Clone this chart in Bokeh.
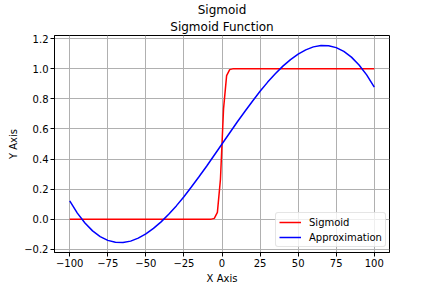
from bokeh.plotting import figure
from bokeh.models import FixedTicker, Legend, LegendItem, Range1d, Title
from bokeh.embed import file_html
from bokeh.resources import INLINE

# data
sig_x = [-100, -9.09, -7.07, -5.05, -3.03, -1.01, 1.01, 3.03, 5.05, 7.07, 9.09, 100]
sig_y = [0.0, 0.0, 0.001, 0.006, 0.046, 0.267, 0.733, 0.954, 0.994, 0.999, 1.0, 1.0]

approx_x = [-100, -95, -90, -85, -80, -75, -70, -65, -60, -55, -50, -45, -40, -35, -30,
            -25, -20, -15, -10, -5, 0, 5, 10, 15, 20, 25, 30, 35, 40, 45, 50, 55, 60,
            65, 70, 75, 80, 85, 90, 95, 100]
approx_y = [0.123, 0.041, -0.025, -0.077, -0.115, -0.140, -0.153, -0.154, -0.145, -0.125,
            -0.097, -0.060, -0.017, 0.034, 0.089, 0.150, 0.216, 0.284, 0.354, 0.427, 0.500,
            0.573, 0.646, 0.716, 0.784, 0.850, 0.911, 0.966, 1.017, 1.060, 1.097, 1.125,
            1.145, 1.154, 1.153, 1.140, 1.115, 1.077, 1.025, 0.959, 0.877]

x_ticks = [-100, -75, -50, -25, 0, 25, 50, 75, 100]
x_tick_labels = ["\u2212100", "\u221275", "\u221250", "\u221225", "0", "25", "50", "75", "100"]
y_ticks = [-0.2, 0.0, 0.2, 0.4, 0.6, 0.8, 1.0, 1.2]
y_tick_labels = ["\u22120.2", "0.0", "0.2", "0.4", "0.6", "0.8", "1.0", "1.2"]

suptitle = "Sigmoid"
title = "Sigmoid Function"
x_label = "X Axis"
y_label = "Y Axis"
series_names = ["Sigmoid", "Approximation"]

FONT = "DejaVu Sans"

p = figure(width=432, height=288, output_backend="svg", toolbar_location=None,
           x_range=Range1d(-110, 110), y_range=Range1d(-0.2205, 1.2205),
           min_border_left=54, min_border_right=43, min_border_top=35, min_border_bottom=36)
p.title.visible = False
p.background_fill_color = "white"
p.border_fill_color = "white"
p.outline_line_color = "black"
p.outline_line_width = 1

r1 = p.line(sig_x, sig_y, line_color="#ff0000", line_width=1.5)
r2 = p.line(approx_x, approx_y, line_color="#0000ff", line_width=1.5)

for ax, ticks, labels in ((p.xaxis[0], x_ticks, x_tick_labels), (p.yaxis[0], y_ticks, y_tick_labels)):
    ax.ticker = FixedTicker(ticks=ticks)
    ax.major_label_overrides = {t: l for t, l in zip(ticks, labels)}
    ax.major_tick_out = 4
    ax.major_tick_in = 0
    ax.minor_tick_out = 0
    ax.minor_tick_in = 0
    ax.major_label_text_font = FONT
    ax.major_label_text_font_size = "10px"
    ax.major_label_text_color = "black"
    ax.axis_label_text_font = FONT
    ax.axis_label_text_font_size = "10px"
    ax.axis_label_text_font_style = "normal"
    ax.axis_label_text_color = "black"
    ax.axis_line_color = "black"
    ax.major_tick_line_color = "black"
    ax.major_label_standoff = 2

p.xaxis.axis_label = x_label
p.yaxis.axis_label = y_label
p.xaxis.axis_label_standoff = 3
p.yaxis.axis_label_standoff = 2

p.xgrid.ticker = FixedTicker(ticks=x_ticks)
p.ygrid.ticker = FixedTicker(ticks=y_ticks)
for g in (p.xgrid[0], p.ygrid[0]):
    g.grid_line_color = "#b0b0b0"
    g.grid_line_width = 1

legend = Legend(items=[LegendItem(label=series_names[0], renderers=[r1]),
                       LegendItem(label=series_names[1], renderers=[r2])],
                location=(221, 5))
legend.label_text_font = FONT
legend.label_text_font_size = "10px"
legend.label_text_color = "black"
legend.glyph_width = 22
legend.glyph_height = 12
legend.label_height = 12
legend.label_standoff = 8
legend.spacing = 3
legend.padding = 3
legend.margin = 0
legend.border_line_color = "#cccccc"
legend.border_line_width = 1
legend.border_radius = 3
legend.background_fill_alpha = 0.8
p.add_layout(legend)

p.add_layout(Title(text=title, align="center", text_font=FONT, text_font_size="12px",
                   text_font_style="normal", text_color="black", standoff=3), "above")
p.add_layout(Title(text=suptitle, align="center", offset=-5.5, text_font=FONT,
                   text_font_size="12px", text_font_style="normal", text_color="black",
                   standoff=0), "above")

open("out.html", "w").write(file_html(p, INLINE))
